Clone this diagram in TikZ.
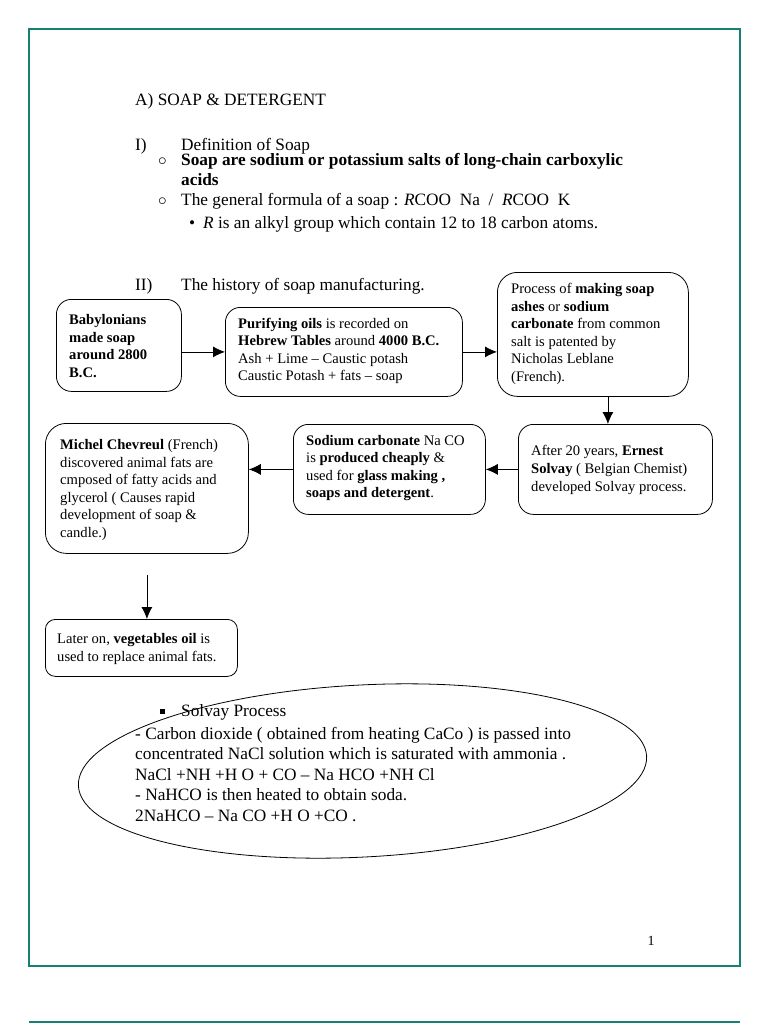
\documentclass[tikz,border=0pt]{standalone}
\usepackage{fontspec}
\setmainfont{Liberation Serif}
\usepackage{tikz}
\usetikzlibrary{arrows.meta,calc,positioning,shapes.geometric}

\definecolor{frameteal}{RGB}{22,128,118}
\newcommand{\bodysize}{\fontsize{17.3}{20}\selectfont}
\newcommand{\boxsize}{\fontsize{14.6}{17.6}\selectfont}

\begin{document}
\begin{tikzpicture}[x=1pt,y=-1pt,
    txt/.style={anchor=base west,inner sep=0pt,font=\bodysize},
    stage/.style={draw,line width=0.8pt,rounded corners=#1,anchor=north west,inner sep=0pt},
    stagetxt/.style={anchor=west,align=left,inner sep=0pt,font=\boxsize},
    flow/.style={line width=0.8pt,-{Latex[length=12pt,width=11pt]}}]
%
  \useasboundingbox (0,0) rectangle (768,1024);
  \draw [frameteal,line width=2pt] (29,29) rectangle (740,966);
  \draw [frameteal,line width=2pt] (29,1022) -- (740,1022);
%
  \node [txt] (title) at (135,105.5) {A) SOAP \& DETERGENT};
  \node [txt] (defno) at (135,150.5) {I)};
  \node [txt] (defhead) at (181,150.5) {Definition of Soap};
  \node [txt] (dotone) at (158,166) {$\circ$};
  \node [txt,font={\bodysize\bfseries}] (defsoap) at (181,166)
        {Soap are sodium or potassium salts of long-chain carboxylic};
  \node [txt,font={\bodysize\bfseries}] (defacid) at (181,186) {acids};
  \node [txt] (dottwo) at (158,206) {$\circ$};
  \node [txt] (formula) at (181,206)
        {The general formula of a soap : \textit{R}COO~~Na~~/~~\textit{R}COO~~K};
  \node [txt] (dotthree) at (189,229) {\textbullet};
  \node [txt] (alkyl) at (203,229)
        {\textit{R} is an alkyl group which contain 12 to 18 carbon atoms.};
  \node [txt] (histno) at (135,290.5) {II)};
  \node [txt] (histhead) at (181,290.5) {The history of soap manufacturing.};
%
  \node [stage=15pt,minimum width=125pt,minimum height=92pt] (bab) at (56,299) {};
  \node [stagetxt,font={\boxsize\bfseries}] (babtxt) at (69,346)
        {Babylonians\\made soap\\around 2800\\B.C.};
  \node [stage=15pt,minimum width=237pt,minimum height=89pt] (pur) at (225,307) {};
  \node [stagetxt] (purtxt) at (238,351)
        {\textbf{Purifying oils} is recorded on\\
         \textbf{Hebrew Tables} around \textbf{4000 B.C.}\\
         Ash + Lime -- Caustic potash\\
         Caustic Potash + fats -- soap};
  \node [stage=20pt,minimum width=191pt,minimum height=124pt] (leb) at (497,272) {};
  \node [stagetxt] (lebtxt) at (511,334)
        {Process of \textbf{making soap}\\
         \textbf{ashes} or \textbf{sodium}\\
         \textbf{carbonate} from common\\
         salt is patented by\\
         Nicholas Leblane\\
         (French).};
  \node [stage=15pt,minimum width=194pt,minimum height=90pt] (ern) at (518,424) {};
  \node [stagetxt] (erntxt) at (531,470)
        {After 20 years, \textbf{Ernest}\\
         \textbf{Solvay} ( Belgian Chemist)\\
         developed Solvay process.};
  \node [stage=15pt,minimum width=192pt,minimum height=90pt] (soda) at (293,424) {};
  \node [stagetxt] (sodatxt) at (306,468)
        {\textbf{Sodium carbonate} Na CO\\
         is \textbf{produced cheaply} \&\\
         used for \textbf{glass making ,}\\
         \textbf{soaps and detergent}.};
  \node [stage=21pt,minimum width=203pt,minimum height=130pt] (chev) at (45,423) {};
  \node [stagetxt] (chevtxt) at (60,490)
        {\textbf{Michel Chevreul} (French)\\
         discovered animal fats are\\
         cmposed of fatty acids and\\
         glycerol ( Causes rapid\\
         development of soap \&\\
         candle.)};
  \node [stage=10pt,minimum width=192pt,minimum height=57pt] (veg) at (45,619) {};
  \node [stagetxt] (vegtxt) at (57,649)
        {Later on, \textbf{vegetables oil} is\\
         used to replace animal fats.};
%
  \draw [flow] (pur.west -| bab.east) -- (pur.west);
  \draw [flow] (pur.east) -- (pur.east -| leb.west);
  \coordinate (drop) at ([xshift=15pt]leb.south);
  \draw [flow] (drop) -- (drop |- ern.north);
  \draw [flow] (ern.west) -- (ern.west -| soda.east);
  \draw [flow] (soda.west) -- (soda.west -| chev.east);
  \coordinate (lift) at ([yshift=-21pt]chev.south);
  \draw [flow] (lift) -- (lift |- veg.north);
%
  \node [draw,ellipse,line width=0.8pt,minimum width=569pt,minimum height=172pt,
         inner sep=0pt,rotate=3] (oval) at (362.5,771) {};
  \node [anchor=west,align=left,inner sep=0pt,font=\fontsize{17.3}{20.5}\selectfont]
        (ovaltxt) at (135,763)
        {\hspace*{25pt}\rule[2.5pt]{5pt}{5pt}\hspace{16pt}Solvay Process\\[2.5pt]
         - Carbon dioxide ( obtained from heating CaCo ) is passed into\\
         concentrated NaCl solution which is saturated with ammonia .\\
         NaCl +NH +H O + CO -- Na HCO +NH Cl\\
         - NaHCO is then heated to obtain soda.\\
         2NaHCO -- Na CO +H O +CO .};
%
  \node [inner sep=0pt,font=\fontsize{14}{16}\selectfont] (pageno) at (651,941) {1};
\end{tikzpicture}
\end{document}
